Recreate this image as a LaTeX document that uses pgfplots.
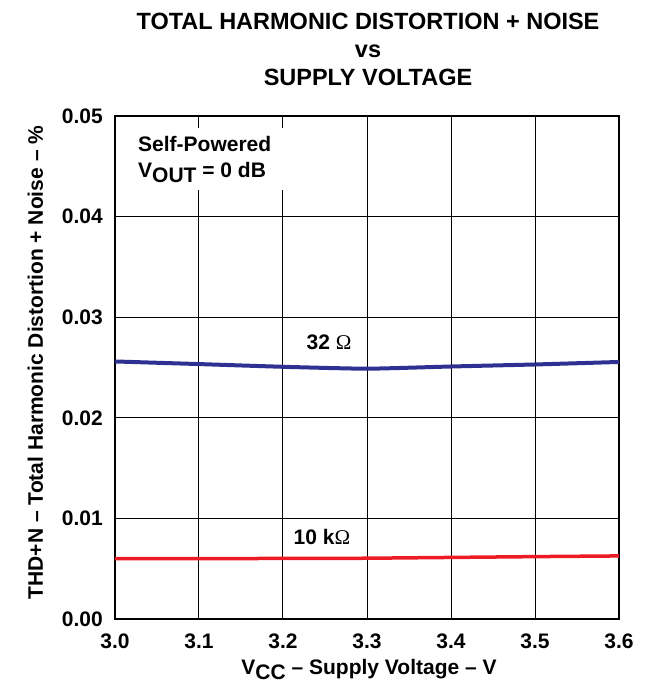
\documentclass[border=0pt]{standalone}
\usepackage{pgfplots}
\pgfplotsset{compat=1.18}
\usepackage{fontspec}
\setmainfont{Liberation Sans}
\newfontfamily\omegafont{Liberation Serif}
\definecolor{curveblue}{RGB}{46,49,146}
\definecolor{curvered}{RGB}{237,28,36}
\newcommand{\lab}{\bfseries\fontsize{21}{27}\selectfont}
\newcommand{\ttl}{\bfseries\fontsize{23.5}{28}\selectfont}
\newcommand{\sub}[1]{\raisebox{-4.5pt}{#1}}
\begin{document}
\begin{tikzpicture}
\begin{axis}[
	scale only axis,
	width=504pt, height=503pt,
	xmin=3.0, xmax=3.6,
	ymin=0, ymax=0.05,
	xtick={3.0,3.1,...,3.6},
	ytick={0,0.01,...,0.05},
	grid=major,
	major grid style={black, line width=1pt},
	axis line style={line width=2pt},
	tick style={draw=none},
	/pgf/number format/assume math mode=true,
	ticklabel style={font=\lab},
	xticklabel={\pgfmathprintnumber[fixed,fixed zerofill,precision=1]{\tick}},
	yticklabel={\pgfmathprintnumber[fixed,fixed zerofill,precision=2]{\tick}},
	scaled y ticks=false,
	xticklabel style={anchor=north, inner sep=0pt, yshift=-15pt},
	yticklabel style={anchor=east, inner sep=0pt, xshift=-12pt},
	xlabel={V\sub{CC} -- Supply Voltage -- V},
	xlabel style={font=\lab, at={(axis description cs:0.504,-0.1113)}, anchor=base, inner sep=0pt},
	ylabel={THD+N -- Total Harmonic Distortion + Noise -- \%},
	ylabel style={font=\lab, at={(axis description cs:-0.1429,0.51)}, anchor=base, inner sep=0pt},
	title={TOTAL HARMONIC DISTORTION + NOISE\\vs\\SUPPLY VOLTAGE},
	title style={font=\ttl, align=center, at={(axis description cs:0.502,1.0487)}, anchor=south, inner sep=0pt},
]
\addplot[curveblue, line width=4pt, smooth, tension=0.3] coordinates {
	(3.0,0.0256) (3.1,0.02534) (3.2,0.02507) (3.3,0.02488) (3.4,0.0251) (3.5,0.0253) (3.6,0.02555)
};
\addplot[curvered, line width=3.5pt] coordinates {
	(3.0,0.0060) (3.1,0.0060) (3.2,0.00602) (3.3,0.00604) (3.4,0.00612) (3.5,0.0062) (3.6,0.00627)
};
\fill[white] (axis cs:3.012,0.0488) rectangle (axis cs:3.21,0.0426);
\node[font=\lab, anchor=base west, inner sep=0pt] at (axis cs:3.0274,0.04647) {Self-Powered};
\node[font=\lab, anchor=base west, inner sep=0pt] at (axis cs:3.0274,0.04388) {V\sub{OUT} = 0 dB};
\node[font=\lab] at (axis cs:3.2548,0.02746) {32 {\omegafont\mdseries Ω}};
\node[font=\lab] at (axis cs:3.2464,0.00816) {10 k{\omegafont\mdseries Ω}};
\end{axis}
\path (current axis.south west) ++(-115pt,-69pt) rectangle ++(652pt,688pt);
\end{tikzpicture}
\end{document}
